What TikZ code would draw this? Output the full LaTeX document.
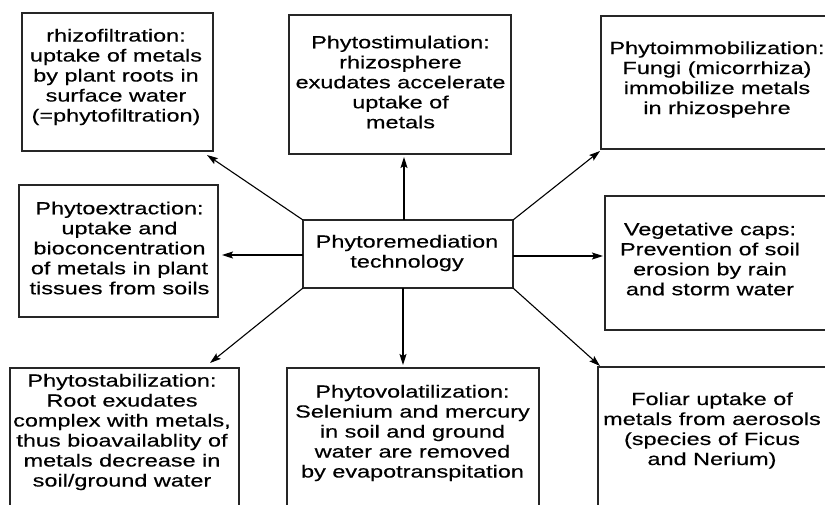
\documentclass[tikz,border=0pt]{standalone}
\usepackage{fontspec}
\setmainfont[FakeStretch=1.34,FakeBold=0.4]{Liberation Sans}
\usetikzlibrary{arrows.meta,calc}
\begin{document}
\begin{tikzpicture}[x=1pt,y=-1pt,
  boxn/.style={draw=black!85,line width=1.6pt,outer sep=0pt,inner sep=0pt},
  txt/.style={align=center,inner sep=0pt,font=\fontsize{17.5}{20}\selectfont},
  arr/.style={draw=black,line width=1.1pt,-{Stealth[length=11pt,width=7pt,inset=2pt]}}]
\useasboundingbox (0,0) rectangle (825,504);
\clip (0,0) rectangle (825,504);
% boxes
\node[boxn,minimum width=191,minimum height=138] (b1) at (117.5,82) {};
\node[boxn,minimum width=222,minimum height=139] (b2) at (400,84.5) {};
\node[boxn,minimum width=234,minimum height=133] (b3) at (718,82.5) {};
\node[boxn,minimum width=199,minimum height=132] (b4) at (118.5,251) {};
\node[boxn,minimum width=210,minimum height=68] (c) at (408,254) {};
\node[boxn,minimum width=230,minimum height=134] (b6) at (720,263) {};
\node[boxn,minimum width=229,minimum height=172] (b7) at (124.5,454) {};
\node[boxn,minimum width=252,minimum height=172] (b8) at (413,454) {};
\node[boxn,minimum width=237,minimum height=173] (b9) at (716.5,453.5) {};
% texts
\node[txt] (t1) at (116,77) {rhizofiltration:\\uptake of metals\\by plant roots in\\surface water\\(=phytofiltration)};
\node[txt] (t2) at (400.5,82) {Phytostimulation:\\rhizosphere\\exudates accelerate\\uptake of\\metals};
\node[txt] (t3) at (717,79.5) {Phytoimmobilization:\\Fungi (micorrhiza)\\immobilize metals\\in rhizospehre};
\node[txt] (t4) at (119.5,248) {Phytoextraction:\\uptake and\\bioconcentration\\of metals in plant\\tissues from soils};
\node[txt] (tc) at (407,253) {Phytoremediation\\technology};
\node[txt] (t6) at (710,259) {Vegetative caps:\\Prevention of soil\\erosion by rain\\and storm water};
\node[txt] (t7) at (122,432) {Phytostabilization:\\Root exudates\\complex with metals,\\thus bioavailablity of\\metals decrease in\\soil/ground water};
\node[txt] (t8) at (412.5,433) {Phytovolatilization:\\Selenium and mercury\\in soil and ground\\water are removed\\by evapotranspitation};
\node[txt] (t9) at (712,430.5) {Foliar uptake of\\metals from aerosols\\(species of Ficus\\and Nerium)};
% connectors
\draw[arr] (c.north west) -- ($(b1.south east)+(-6,4)$);
\draw[arr] ($(c.north)+(-4,0)$) -- ($(b2.south)+(4,3)$);
\draw[arr] (c.north east) -- ($(b3.south west)+(-1,2)$);
\draw[arr] ($(c.west)+(0,1)$) -- ($(b4.east)+(4,4)$);
\draw[arr] ($(c.east)+(0,2)$) -- ($(b6.west)+(-2,-7)$);
\draw[arr] (c.south west) -- ($(b7.north east)+(-29,-5)$);
\draw[arr] ($(c.south)+(-5,0)$) -- ($(b8.north)+(-10,-3)$);
\draw[arr] (c.south east) -- ($(b9.north west)+(2,-1)$);
\end{tikzpicture}
\end{document}
